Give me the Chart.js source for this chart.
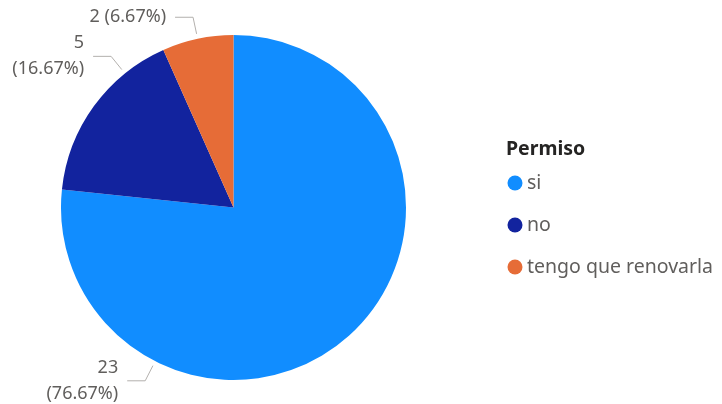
<!DOCTYPE html>
<html>
<head>
<meta charset="utf-8">
<script src="https://cdn.jsdelivr.net/npm/chart.js@4/dist/chart.umd.min.js"></script>
<style>
	html, body { margin: 0; padding: 0; background: #fff; }
	#wrap { position: relative; width: 722px; height: 404px; }
</style>
</head>
<body>
<div id="wrap"><canvas id="pieChart"></canvas></div>
<script>
// data
var legendTitle = 'Permiso';
var categories = ['si', 'no', 'tengo que renovarla'];
var counts = [23, 5, 2];
var sliceColors = ['#118DFF', '#12239E', '#E66C37'];

var total = counts.reduce(function (a, b) { return a + b; }, 0);

// where each outside label sits: angle in degrees clockwise from 12 o'clock
var labelAngles = [207, 321, 348];

var FONT = "'Segoe UI', 'Noto Sans', sans-serif";

var leaderLabels = {
	id: 'leaderLabels',
	afterDatasetsDraw: function (chart) {
		var ctx = chart.ctx;
		var meta = chart.getDatasetMeta(0);
		ctx.save();
		meta.data.forEach(function (arc, i) {
			var r = arc.outerRadius;
			var a = labelAngles[i] * Math.PI / 180;
			var sx = arc.x + (r + 5) * Math.sin(a), sy = arc.y - (r + 5) * Math.cos(a);
			var ex = arc.x + (r + 22) * Math.sin(a), ey = arc.y - (r + 22) * Math.cos(a);
			var left = Math.sin(a) < 0;
			var hx = left ? ex - 18 : ex + 18;
			ctx.strokeStyle = '#B3B0AD';
			ctx.lineWidth = 1;
			ctx.beginPath();
			ctx.moveTo(sx, sy);
			ctx.lineTo(ex, ey);
			ctx.lineTo(hx, ey);
			ctx.stroke();

			var pct = (counts[i] / total * 100).toFixed(2) + '%';
			ctx.fillStyle = '#605E5C';
			ctx.font = '18px ' + FONT;
			ctx.textAlign = left ? 'right' : 'left';
			ctx.textBaseline = 'middle';
			var tx = left ? hx - 9 : hx + 9;
			if (i === 2) {
				ctx.fillText(counts[i] + ' (' + pct + ')', tx, ey);
			} else {
				ctx.fillText(String(counts[i]), tx, ey - 13);
				ctx.fillText('(' + pct + ')', tx, ey + 13);
			}
		});
		ctx.restore();
	}
};

var sideLegend = {
	id: 'sideLegend',
	afterDraw: function (chart) {
		var ctx = chart.ctx;
		ctx.save();
		ctx.textBaseline = 'middle';
		ctx.textAlign = 'left';
		ctx.fillStyle = '#252423';
		ctx.font = 'bold 19.5px ' + FONT;
		ctx.fillText(legendTitle, 506, 149);
		var rows = [183, 225, 267];
		categories.forEach(function (name, i) {
			ctx.fillStyle = sliceColors[i];
			ctx.beginPath();
			ctx.arc(515, rows[i], 7.5, 0, Math.PI * 2);
			ctx.fill();
			ctx.fillStyle = '#605E5C';
			ctx.font = '19.5px ' + FONT;
			ctx.fillText(name, 527, rows[i]);
		});
		ctx.restore();
	}
};

function loadPieChart() {
	var pieChartElement = document.getElementById('pieChart');
	var pieChart = new Chart(pieChartElement, {
		type: 'pie',
		data: {
			labels: categories,
			datasets: [{
				data: counts,
				backgroundColor: sliceColors,
				borderWidth: 0
			}]
		},
		options: {
			responsive: true,
			maintainAspectRatio: false,
			animation: false,
			layout: {
				padding: { left: 61, right: 316, top: 35, bottom: 24 }
			},
			plugins: {
				legend: { display: false },
				tooltip: { enabled: false }
			}
		},
		plugins: [leaderLabels, sideLegend]
	});

	window.pieChart = pieChart;
}
loadPieChart();
</script>
</body>
</html>
